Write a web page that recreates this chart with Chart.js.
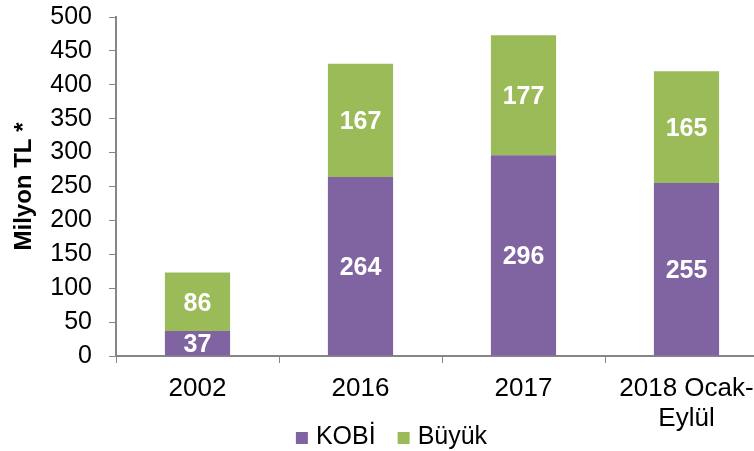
<!DOCTYPE html>
<html>
<head>
<meta charset="utf-8">
<script src="https://cdn.jsdelivr.net/npm/chart.js@4/dist/chart.umd.min.js"></script>
<style>
    html, body { margin: 0; padding: 0; background: #fff; overflow: hidden; }
    #wrap { width: 783px; height: 451px; }
</style>
</head>
<body>
<div id="wrap"><canvas id="chart"></canvas></div>
<script>
// chart values
const categories = ['2002', '2016', '2017', ['2018 Ocak-', 'Eylül']];
const kobiValues = [37, 264, 296, 255];
const buyukValues = [86, 167, 177, 165];
const seriesNames = ['KOBİ', 'Büyük'];
const seriesColors = ['#8064A2', '#9BBB59'];

const font = "'Liberation Sans', Arial, sans-serif";
const axisGrey = '#868686';

// white value labels in the middle of each bar segment
const barLabels = {
    id: 'barLabels',
    afterDatasetsDraw(chart) {
        const ctx = chart.ctx;
        ctx.save();
        ctx.fillStyle = '#ffffff';
        ctx.font = 'bold 25px ' + font;
        ctx.textAlign = 'center';
        ctx.textBaseline = 'middle';
        chart.data.datasets.forEach((ds, i) => {
            chart.getDatasetMeta(i).data.forEach((bar, j) => {
                const mid = (bar.y + bar.base) / 2;
                ctx.fillText(ds.data[j], bar.x, mid + 2);
            });
        });
        ctx.restore();
    }
};

// legend under the axis labels, drawn by hand so the x labels get the room
const bottomLegend = {
    id: 'bottomLegend',
    afterDraw(chart) {
        const ctx = chart.ctx;
        const box = 12, gapText = 8, gapItem = 22;
        const y = 437;
        ctx.save();
        ctx.font = '25px ' + font;
        ctx.textBaseline = 'middle';
        const items = chart.data.datasets.map(ds => ({
            label: ds.label, color: ds.backgroundColor, w: ctx.measureText(ds.label).width
        }));
        let total = 0;
        items.forEach((it, i) => { total += box + gapText + it.w + (i ? gapItem : 0); });
        let x = 391.5 - total / 2;
        items.forEach(it => {
            ctx.fillStyle = it.color;
            ctx.fillRect(x, y - box / 2 + 1, box, box);
            x += box + gapText;
            ctx.fillStyle = '#000';
            ctx.fillText(it.label, x, y);
            x += it.w + gapItem;
        });
        ctx.restore();
    }
};

new Chart(document.getElementById('chart'), {
    type: 'bar',
    data: {
        labels: categories,
        datasets: [
            { label: seriesNames[0], data: kobiValues, backgroundColor: seriesColors[0] },
            { label: seriesNames[1], data: buyukValues, backgroundColor: seriesColors[1] }
        ]
    },
    options: {
        responsive: true,
        maintainAspectRatio: false,
        animation: false,
        layout: { padding: { top: 17, right: 15, left: 0, bottom: 0 } },
        datasets: { bar: { categoryPercentage: 1, barPercentage: 0.4 } },
        plugins: {
            tooltip: { enabled: false },
            legend: { display: false }
        },
        scales: {
            x: {
                stacked: true,
                grid: { offset: true, drawOnChartArea: false, tickLength: 7, tickColor: axisGrey },
                border: { color: axisGrey, width: 2 },
                ticks: { color: '#000', font: { family: font, size: 26, lineHeight: 1.15 }, padding: 11, maxRotation: 0 },
                afterFit(scale) {
                    scale.height = 95;
                    scale.paddingLeft = 0;
                    scale.paddingRight = 0;
                }
            },
            y: {
                stacked: true,
                min: 0,
                max: 500,
                ticks: { stepSize: 50, autoSkip: false, color: '#000', font: { family: font, size: 25 }, padding: 17 },
                grid: { drawOnChartArea: false, tickLength: 7, tickColor: axisGrey },
                border: { color: axisGrey, width: 2 },
                title: {
                    display: true,
                    text: 'Milyon TL *',
                    color: '#000',
                    font: { family: font, size: 24, weight: 'bold' },
                    padding: { top: 10, bottom: 0 }
                },
                afterFit(scale) {
                    scale.width = 116;
                    scale.paddingTop = 0;
                    scale.paddingBottom = 0;
                }
            }
        }
    },
    plugins: [barLabels, bottomLegend]
});
</script>
</body>
</html>
